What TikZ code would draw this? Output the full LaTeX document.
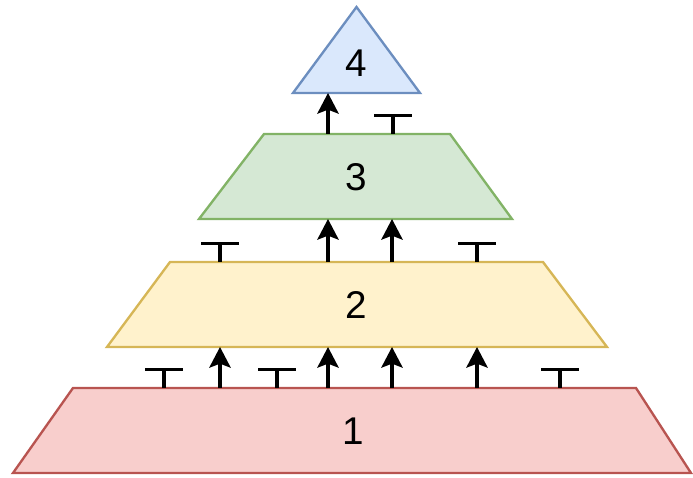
\documentclass[tikz,border=0pt]{standalone}
\usepackage{fontspec}
\setmainfont{Liberation Sans}
\usetikzlibrary{shapes.geometric, arrows.meta}
\definecolor{redfill}{HTML}{F8CECC}
\definecolor{redline}{HTML}{B85450}
\definecolor{yelfill}{HTML}{FFF2CC}
\definecolor{yelline}{HTML}{D6B656}
\definecolor{grnfill}{HTML}{D5E8D4}
\definecolor{grnline}{HTML}{82B366}
\definecolor{blufill}{HTML}{DAE8FC}
\definecolor{bluline}{HTML}{6C8EBF}

\begin{document}
\begin{tikzpicture}[x=0.03cm, y=-0.03cm,
    layer/.style={line width=2pt, line join=miter},
    num/.style={font=\fontsize{33}{36}\selectfont, inner sep=0pt},
    up/.style={line width=2.6pt, -{Stealth[length=0.62cm, width=0.64cm, inset=0.12cm]}},
    stop/.style={line width=2.6pt, -{Bar[width=1.14cm]}}]
  \useasboundingbox (0,0) rectangle (693,478);

  % Layer corners
  \coordinate (L1sw) at (13,473);  \coordinate (L1se) at (691,473);
  \coordinate (L1ne) at (636,388); \coordinate (L1nw) at (73,388);
  \coordinate (L2sw) at (107,347); \coordinate (L2se) at (607,347);
  \coordinate (L2ne) at (543,262); \coordinate (L2nw) at (170,262);
  \coordinate (L3sw) at (199,219); \coordinate (L3se) at (512,219);
  \coordinate (L3ne) at (450,134); \coordinate (L3nw) at (264,134);

  % Layers, bottom to top
  \draw[layer, draw=redline, fill=redfill] (L1sw) -- (L1se) -- (L1ne) -- (L1nw) -- cycle;
  \draw[layer, draw=yelline, fill=yelfill] (L2sw) -- (L2se) -- (L2ne) -- (L2nw) -- cycle;
  \draw[layer, draw=grnline, fill=grnfill] (L3sw) -- (L3se) -- (L3ne) -- (L3nw) -- cycle;
  \node[num] (L1) at (353,431) {1};
  \node[num] (L2) at (356,305) {2};
  \node[num] (L3) at (356,177) {3};
  \node[isosceles triangle, isosceles triangle stretches=true, shape border rotate=90,
    minimum width=3.81cm, minimum height=2.58cm, inner sep=0pt, outer sep=0pt,
    draw=bluline, fill=blufill, line width=2pt, font=\fontsize{33}{36}\selectfont,
    anchor=lower side] (L4) at (356.5,93) {4};

  % 1 -> 2
  \foreach \x in {220,328,392,477} {
    \coordinate (p) at (\x,0);
    \draw[up] (L1nw -| p) -- (L2sw -| p);
  }
  \foreach \x in {164,277,560} {
    \coordinate (p) at (\x,368);
    \draw[stop] (L1nw -| p) -- (p);
  }

  % 2 -> 3
  \foreach \x in {328,392} {
    \coordinate (p) at (\x,0);
    \draw[up] (L2nw -| p) -- (L3sw -| p);
  }
  \foreach \x in {220,477} {
    \coordinate (p) at (\x,242);
    \draw[stop] (L2nw -| p) -- (p);
  }

  % 3 -> 4
  \coordinate (p) at (328,0);
  \draw[up] (L3nw -| p) -- (L4.south -| p);
  \coordinate (p) at (393,114);
  \draw[stop] (L3nw -| p) -- (p);
\end{tikzpicture}
\end{document}
